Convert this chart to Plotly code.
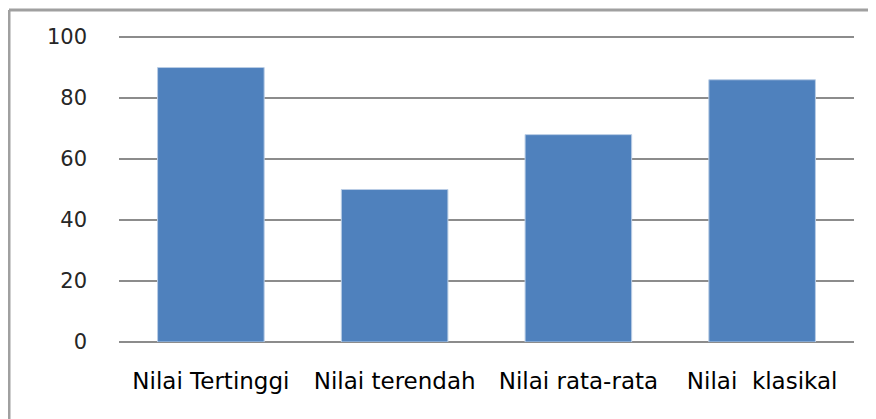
import plotly.graph_objects as go

categories = ["Nilai Tertinggi", "Nilai terendah", "Nilai rata-rata", "Nilai  klasikal"]
values = [90, 50, 68, 86]
y_ticks = [0, 20, 40, 60, 80, 100]

# the page body adds an 8px offset; the figure is sized to fill the rest of the window
W, H = 868, 411
L, R, T, B = 111, 22, 26, 77
pw, ph = W - L - R, H - T - B

fig = go.Figure(go.Bar(
    x=categories, y=values,
    marker=dict(color="#4F81BD", line=dict(color="#B9CDE5", width=1)),
))

fig.update_layout(
    width=W, height=H,
    margin=dict(l=L, r=R, t=T, b=B, autoexpand=False),
    paper_bgcolor="white", plot_bgcolor="white",
    bargap=0.42, showlegend=False,
    xaxis=dict(showgrid=False, showline=False, ticks="",
               tickfont=dict(family="DejaVu Sans", size=23, color="#000000"),
               ticklabelstandoff=23),
    yaxis=dict(range=[0, 101], tickvals=y_ticks, showgrid=True, gridcolor="#8C8C8C", gridwidth=2,
               zeroline=True, zerolinecolor="#8C8C8C", zerolinewidth=2,
               showline=False, ticks="",
               tickfont=dict(family="DejaVu Sans", size=21, color="#262626"),
               ticklabelstandoff=31),
    shapes=[
        dict(type="line", xref="paper", yref="paper",
             x0=(1 - L) / pw, x1=(W - L + 10) / pw, y0=1 + (T - 2) / ph, y1=1 + (T - 2) / ph,
             line=dict(color="#A0A0A0", width=3)),
        dict(type="line", xref="paper", yref="paper",
             x0=(1 - L) / pw, x1=(1 - L) / pw, y0=1 + (T - 2) / ph, y1=-(B + 10) / ph,
             line=dict(color="#A0A0A0", width=3)),
    ],
)

fig.write_html("out.html")
